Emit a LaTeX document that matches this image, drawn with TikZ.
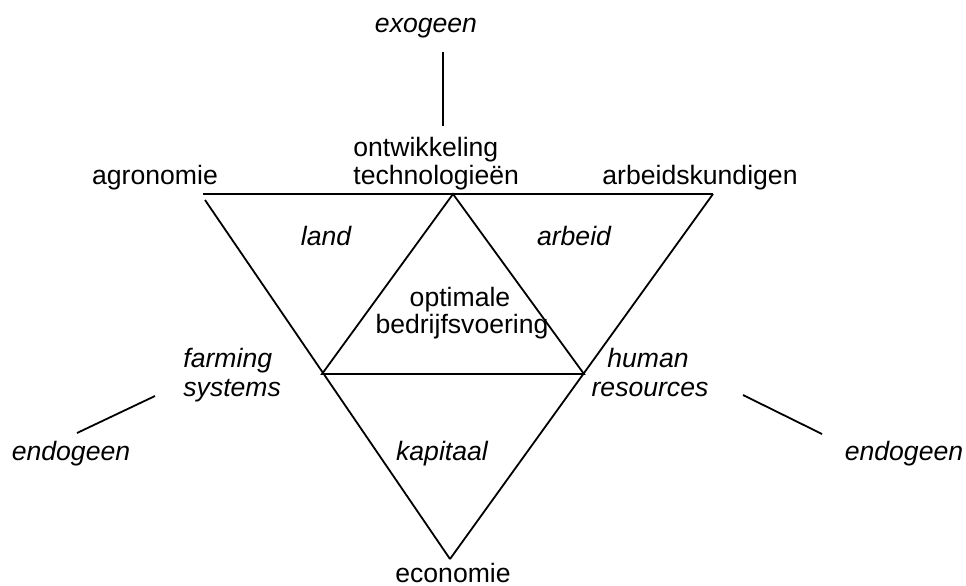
\documentclass[tikz,border=0pt]{standalone}
\usepackage{fontspec}
\setmainfont{Liberation Sans}
\begin{document}
\begin{tikzpicture}[x=0.5pt,y=-0.5pt,
  lbl/.style={inner sep=0pt,font=\fontsize{13.3}{14}\selectfont},
  ilbl/.style={lbl,font=\fontsize{13.3}{14}\selectfont\itshape},
  edge/.style={line width=0.9pt,line cap=butt}]
\useasboundingbox (0,0) rectangle (966,585);

% triangle corners
\coordinate (TL) at (203,194);
\coordinate (TR) at (713,194);
\coordinate (LS) at (205,200);
\coordinate (B)  at (450,559);
\coordinate (TM) at (453,194);
\coordinate (ML) at (322,374);
\coordinate (MR) at (584,374);
% free ends of the short strokes
\coordinate (vA) at (443,52);
\coordinate (vB) at (443,126);
\coordinate (lA) at (77,433);
\coordinate (lB) at (155,396);
\coordinate (rA) at (743,395);
\coordinate (rB) at (822,434);

% outer triangle
\draw[edge] (TL) -- (TR);
\draw[edge] (LS) -- (B);
\draw[edge] (TR) -- (B);
% inner triangle
\draw[edge] (TM) -- (ML) -- (MR) -- cycle;
% strokes to the outside labels
\draw[edge] (vA) -- (vB);
\draw[edge] (lA) -- (lB);
\draw[edge] (rA) -- (rB);

% labels
\node[ilbl,anchor=base] (exo) at (426,32) {exogeen};
\node[lbl,anchor=base west] (ont1) at (353,156) {ontwikkeling};
\node[lbl,anchor=base west] (ont2) at (353,184) {technologieën};
\node[lbl,anchor=base] (agr) at (155,184) {agronomie};
\node[lbl,anchor=base] (arb) at (700,184) {arbeidskundigen};
\node[ilbl,anchor=base] (land) at (326,245) {land};
\node[ilbl,anchor=base] (arbeid) at (574,245) {arbeid};
\node[lbl,anchor=base] (opt1) at (460,306) {optimale};
\node[lbl,anchor=base] (opt2) at (462,333) {bedrijfsvoering};
\node[ilbl,anchor=base west] (farm1) at (183,367) {farming};
\node[ilbl,anchor=base west] (farm2) at (183,396) {systems};
\node[ilbl,anchor=base] (hum1) at (648,367) {human};
\node[ilbl,anchor=base] (hum2) at (650,396) {resources};
\node[ilbl,anchor=base] (endoL) at (71,460) {endogeen};
\node[ilbl,anchor=base] (endoR) at (904,460) {endogeen};
\node[ilbl,anchor=base] (kap) at (442,460) {kapitaal};
\node[lbl,anchor=base] (eco) at (453,582) {economie};
\end{tikzpicture}
\end{document}
